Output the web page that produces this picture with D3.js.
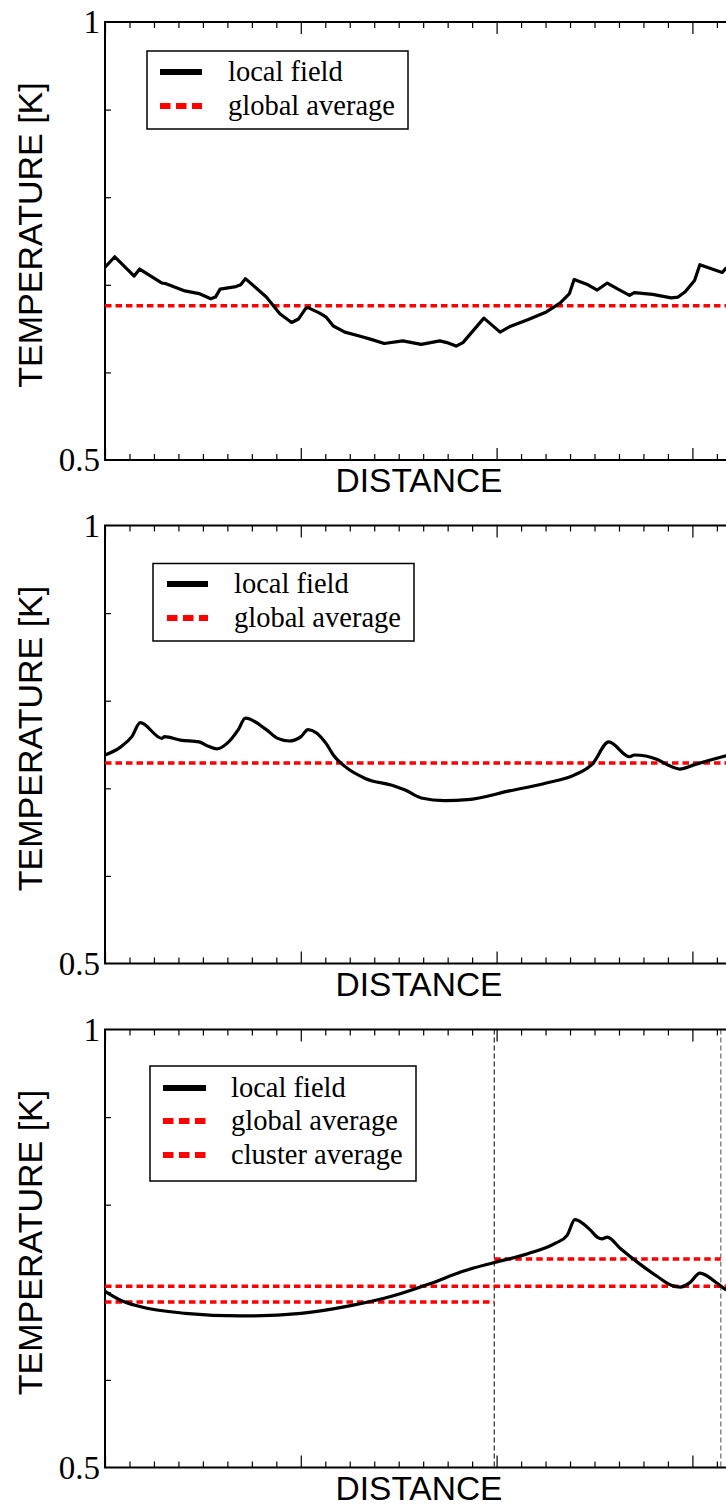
<!DOCTYPE html>
<html><head><meta charset="utf-8">
<script src="https://cdn.jsdelivr.net/npm/d3@7"></script>
<style>body{margin:0;background:#fff}</style>
</head><body>
<svg id="chart" width="726" height="1506"></svg>
<script>
// ---------- data ----------
const distance1 = [0.00,0.05,0.149,0.177,0.291,0.315,0.408,0.48,0.54,0.564,0.588,0.669,0.693,0.717,0.824,0.893,0.953,0.989,1.025,1.037,1.094,1.130,1.166,1.225,1.308,1.355,1.426,1.521,1.615,1.710,1.746,1.793,1.828,1.935,2.018,2.065,2.159,2.254,2.324,2.372,2.396,2.467,2.514,2.565,2.620,2.679,2.703,2.797,2.892,2.927,2.963,3.011,3.038,3.152,3.172,3.243];
const temperature1 = [0.720,0.732,0.710,0.718,0.702,0.701,0.693,0.690,0.684,0.686,0.695,0.698,0.700,0.707,0.686,0.667,0.657,0.661,0.673,0.674,0.668,0.663,0.653,0.646,0.641,0.638,0.633,0.636,0.632,0.636,0.634,0.630,0.634,0.662,0.646,0.652,0.660,0.669,0.679,0.690,0.706,0.700,0.694,0.702,0.695,0.688,0.691,0.689,0.685,0.686,0.692,0.705,0.723,0.714,0.719,0.726];

const distance2 = [0.00,0.079,0.137,0.180,0.291,0.304,0.385,0.480,0.528,0.571,0.622,0.681,0.717,0.824,0.882,0.941,1.001,1.037,1.130,1.166,1.225,1.332,1.473,1.533,1.615,1.734,1.851,2.065,2.254,2.396,2.490,2.573,2.679,2.703,2.821,2.880,2.935,3.011,3.172,3.243];
const temperature2 = [0.738,0.747,0.759,0.775,0.757,0.759,0.755,0.753,0.748,0.745,0.751,0.767,0.780,0.767,0.757,0.754,0.759,0.767,0.751,0.738,0.725,0.711,0.703,0.698,0.689,0.686,0.687,0.697,0.706,0.715,0.728,0.753,0.736,0.738,0.733,0.726,0.722,0.727,0.737,0.741];

const distance3 = [0.00,0.079,0.173,0.409,0.693,1.001,1.261,1.473,1.662,1.828,1.989,2.159,2.301,2.360,2.400,2.479,2.514,2.538,2.565,2.632,2.727,2.821,2.892,2.939,2.987,3.038,3.129,3.172,3.243];
const temperature3 = [0.701,0.691,0.684,0.676,0.673,0.676,0.685,0.696,0.710,0.724,0.734,0.744,0.756,0.765,0.783,0.771,0.763,0.761,0.763,0.750,0.733,0.718,0.708,0.706,0.711,0.722,0.710,0.703,0.700];

const globalAverages = [0.676, 0.729, 0.707];
const clusterBounds = [0, 1.988, 3.145];
const clusterAverages = [0.689, 0.738];

const yTickValues = [1, 0.5];
const yTickLabels = ["1", "0.5"];
const legendLabels1 = ["local field", "global average"];
const legendLabels3 = ["local field", "global average", "cluster average"];
const xLabel = "DISTANCE";
const yLabel = "TEMPERATURE [K]";

// ---------- layout ----------
const svg = d3.select("#chart");
const left = 105, unit = 195.8, plotH = 438;
const xMax = 3.3;
const x = d3.scaleLinear().domain([0, xMax]).range([left, left + xMax * unit]);
const panelTops = [22, 525.5, 1029.5];
const legendBoxes = [
  {x0:147, y0:51, x1:408, y1:129, sx0:160, sx1:202, tx:228, rows:[72,106]},
  {x0:153, y0:563.5, x1:414, y1:641, sx0:167, sx1:208, tx:234, rows:[584,618]},
  {x0:150, y0:1066, x1:416, y1:1181, sx0:163, sx1:206, tx:231, rows:[1088,1121,1155]}
];
const series = [
  {d: distance1, t: temperature1, curve: d3.curveLinear},
  {d: distance2, t: temperature2, curve: d3.curveMonotoneX},
  {d: distance3, t: temperature3, curve: d3.curveMonotoneX}
];

const majorX = [0,1,2,3];
const minorX = d3.range(0, 27).map(i => i * 0.125).filter(v => v > 0 && Math.abs(v - Math.round(v)) > 1e-6 && v <= xMax);
const minorY = [0.6, 0.7, 0.8, 0.9];

panelTops.forEach((top, p) => {
  const bottom = top + plotH;
  const y = d3.scaleLinear().domain([0.5, 1]).range([bottom, top]);
  const g = svg.append("g");

  // vertical cluster separators (panel 3)
  if (p === 2) {
    clusterBounds.slice(1).forEach((b, i) => {
      g.append("line")
        .attr("x1", x(b)).attr("x2", x(b)).attr("y1", top).attr("y2", bottom)
        .attr("stroke", i === 0 ? "#000" : "#777").attr("stroke-width", i === 0 ? 1 : 1.3)
        .attr("stroke-dasharray", "5,3");
    });
  }

  // ticks: bottom & top & left
  const tickStyle = sel => { sel.select(".domain").remove(); sel.selectAll("line").attr("stroke", "#000").attr("stroke-width", 1.2); sel.selectAll("text").remove(); };
  g.append("g").attr("transform", `translate(0,${bottom})`)
    .call(d3.axisBottom(x).tickValues(majorX).tickSizeInner(-12).tickSizeOuter(0)).call(tickStyle);
  g.append("g").attr("transform", `translate(0,${bottom})`)
    .call(d3.axisBottom(x).tickValues(minorX).tickSizeInner(-6).tickSizeOuter(0)).call(tickStyle);
  g.append("g").attr("transform", `translate(0,${top})`)
    .call(d3.axisTop(x).tickValues(majorX).tickSizeInner(-12).tickSizeOuter(0)).call(tickStyle);
  g.append("g").attr("transform", `translate(0,${top})`)
    .call(d3.axisTop(x).tickValues(minorX).tickSizeInner(-6).tickSizeOuter(0)).call(tickStyle);
  g.append("g").attr("transform", `translate(${left},0)`)
    .call(d3.axisLeft(y).tickValues(minorY).tickSizeInner(-6).tickSizeOuter(0)).call(tickStyle);

  // y tick labels
  const yl = g.append("g").attr("transform", `translate(${left},0)`)
    .call(d3.axisLeft(y).tickValues(yTickValues).tickFormat((d, i) => yTickLabels[i]).tickSizeInner(0).tickSizeOuter(0).tickPadding(5));
  yl.select(".domain").remove();
  yl.selectAll("text").attr("font-family", "'Liberation Serif', 'Times New Roman', serif").attr("font-size", 33).attr("fill", "#000");

  // frame
  g.append("path")
    .attr("d", `M${x(xMax)},${top}H${left}V${bottom}H${x(xMax)}`)
    .attr("fill", "none").attr("stroke", "#000").attr("stroke-width", 2);

  // global average
  g.append("line")
    .attr("x1", x(0)).attr("x2", x(xMax))
    .attr("y1", y(globalAverages[p])).attr("y2", y(globalAverages[p]))
    .attr("stroke", "#ff0000").attr("stroke-width", 3.5).attr("stroke-dasharray", "6.5,4");

  // cluster averages
  if (p === 2) {
    clusterAverages.forEach((v, i) => {
      g.append("line")
        .attr("x1", x(clusterBounds[i])).attr("x2", x(clusterBounds[i + 1]))
        .attr("y1", y(v)).attr("y2", y(v))
        .attr("stroke", "#ff0000").attr("stroke-width", 3.5).attr("stroke-dasharray", "6.5,4");
    });
  }

  // local field
  const s = series[p];
  const line = d3.line().x((d, i) => x(s.d[i])).y((d, i) => y(s.t[i])).curve(s.curve);
  g.append("path").datum(s.t).attr("d", line)
    .attr("fill", "none").attr("stroke", "#000").attr("stroke-width", 3.2).attr("stroke-linejoin", "round");

  // legend
  const L = legendBoxes[p];
  const labels = p === 2 ? legendLabels3 : legendLabels1;
  g.append("rect").attr("x", L.x0).attr("y", L.y0).attr("width", L.x1 - L.x0).attr("height", L.y1 - L.y0)
    .attr("fill", "#fff").attr("stroke", "#000").attr("stroke-width", 1.5);
  labels.forEach((lab, i) => {
    const ry = L.rows[i];
    g.append("line").attr("x1", L.sx0).attr("x2", L.sx1).attr("y1", ry).attr("y2", ry)
      .attr("stroke", i === 0 ? "#000" : "#ff0000").attr("stroke-width", 6)
      .attr("stroke-dasharray", i === 0 ? null : "10.5,5.5");
    g.append("text").attr("x", L.tx).attr("y", ry + 9).text(lab)
      .attr("font-family", "'Liberation Serif', 'Times New Roman', serif").attr("font-size", 28.5).attr("fill", "#000");
  });

  // axis titles
  g.append("text").attr("x", 419).attr("y", bottom + 32).attr("text-anchor", "middle")
    .attr("font-family", "'Liberation Sans', Arial, sans-serif").attr("font-size", 33.5).text(xLabel);
  g.append("text").attr("transform", `translate(42,${top + 213}) rotate(-90)`).attr("text-anchor", "middle")
    .attr("font-family", "'Liberation Sans', Arial, sans-serif").attr("font-size", 34).text(yLabel);
});
</script>
</body></html>
